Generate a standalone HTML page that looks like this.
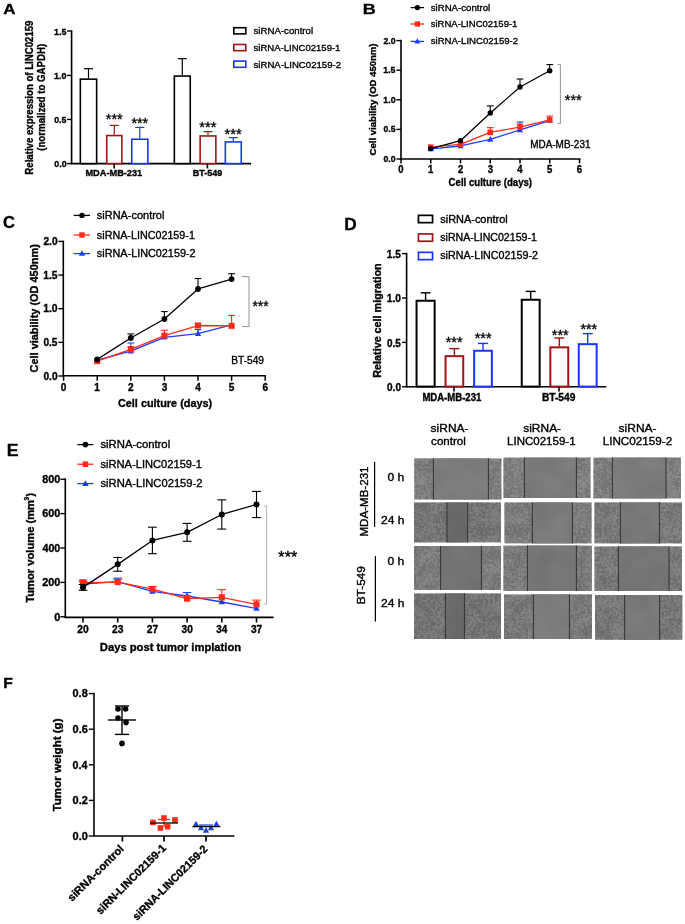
<!DOCTYPE html>
<html><head><meta charset="utf-8"><style>
html,body{margin:0;padding:0;background:#fff;width:685px;height:924px;overflow:hidden}
svg{display:block;will-change:transform;font-family:"Liberation Sans",sans-serif}
</style></head><body>
<svg width="685" height="924" viewBox="0 0 685 924" font-family="Liberation Sans, sans-serif"><text x="3.17" y="14.2" font-size="15.07" font-weight="bold" fill="#000" textLength="12.29" lengthAdjust="spacingAndGlyphs" stroke="#000" stroke-width="0.35">A</text>
<line x1="71.6" y1="30.25" x2="71.6" y2="164.35" stroke="#000" stroke-width="1.6"/>
<line x1="71.6" y1="163.6" x2="251" y2="163.6" stroke="#000" stroke-width="1.6"/>
<line x1="67" y1="31" x2="71.6" y2="31" stroke="#000" stroke-width="1.4"/>
<text x="54.07" y="34.6" font-size="9.8" font-weight="bold" fill="#000" textLength="12.36" lengthAdjust="spacingAndGlyphs" stroke="#000" stroke-width="0.35">1.5</text>
<line x1="67" y1="75.4" x2="71.6" y2="75.4" stroke="#000" stroke-width="1.4"/>
<text x="54.06" y="79" font-size="9.8" font-weight="bold" fill="#000" textLength="12.5" lengthAdjust="spacingAndGlyphs" stroke="#000" stroke-width="0.35">1.0</text>
<line x1="67" y1="119.4" x2="71.6" y2="119.4" stroke="#000" stroke-width="1.4"/>
<text x="54.25" y="123" font-size="9.8" font-weight="bold" fill="#000" textLength="12.17" lengthAdjust="spacingAndGlyphs" stroke="#000" stroke-width="0.35">0.5</text>
<line x1="67" y1="163.6" x2="71.6" y2="163.6" stroke="#000" stroke-width="1.4"/>
<text x="54.25" y="167.2" font-size="9.8" font-weight="bold" fill="#000" textLength="12.31" lengthAdjust="spacingAndGlyphs" stroke="#000" stroke-width="0.35">0.0</text>
<line x1="88.5" y1="78.4" x2="88.5" y2="68.7" stroke="#000" stroke-width="1.2"/>
<line x1="84" y1="68.7" x2="93" y2="68.7" stroke="#000" stroke-width="1.2"/>
<rect x="80.35" y="79.15" width="16.3" height="84.45" fill="#fff" stroke="#000" stroke-width="1.6"/>
<line x1="114.3" y1="134.8" x2="114.3" y2="125.4" stroke="#a01414" stroke-width="1.2"/>
<line x1="109.8" y1="125.4" x2="118.8" y2="125.4" stroke="#a01414" stroke-width="1.2"/>
<rect x="106.75" y="135.55" width="15.1" height="28.05" fill="#fff" stroke="#a01414" stroke-width="1.6"/>
<line x1="139.8" y1="138.5" x2="139.8" y2="127.4" stroke="#1a35ff" stroke-width="1.2"/>
<line x1="135.3" y1="127.4" x2="144.3" y2="127.4" stroke="#1a35ff" stroke-width="1.2"/>
<rect x="131.75" y="139.25" width="16.1" height="24.35" fill="#fff" stroke="#1a35ff" stroke-width="1.6"/>
<line x1="182.3" y1="75.3" x2="182.3" y2="58.7" stroke="#000" stroke-width="1.2"/>
<line x1="177.8" y1="58.7" x2="186.8" y2="58.7" stroke="#000" stroke-width="1.2"/>
<rect x="174.35" y="76.05" width="15.9" height="87.55" fill="#fff" stroke="#000" stroke-width="1.6"/>
<line x1="208" y1="135.2" x2="208" y2="131.6" stroke="#a01414" stroke-width="1.2"/>
<line x1="203.5" y1="131.6" x2="212.5" y2="131.6" stroke="#a01414" stroke-width="1.2"/>
<rect x="200.15" y="135.95" width="15.7" height="27.65" fill="#fff" stroke="#a01414" stroke-width="1.6"/>
<line x1="233.3" y1="141.2" x2="233.3" y2="137.6" stroke="#1a35ff" stroke-width="1.2"/>
<line x1="228.8" y1="137.6" x2="237.8" y2="137.6" stroke="#1a35ff" stroke-width="1.2"/>
<rect x="225.35" y="141.95" width="15.9" height="21.65" fill="#fff" stroke="#1a35ff" stroke-width="1.6"/>
<line x1="114.2" y1="163.6" x2="114.2" y2="168.4" stroke="#000" stroke-width="1.6"/>
<line x1="207.4" y1="163.6" x2="207.4" y2="168.4" stroke="#000" stroke-width="1.6"/>
<text x="85.4" y="176.4" font-size="9.6" font-weight="bold" fill="#000" textLength="56.85" lengthAdjust="spacingAndGlyphs" stroke="#000" stroke-width="0.35">MDA-MB-231</text>
<text x="192.82" y="176.4" font-size="9.6" font-weight="bold" fill="#000" textLength="29.49" lengthAdjust="spacingAndGlyphs" stroke="#000" stroke-width="0.35">BT-549</text>
<text x="105.78" y="124.33" font-size="14.5" font-weight="normal" fill="#000" textLength="17" lengthAdjust="spacingAndGlyphs" stroke="#000" stroke-width="0.35">***</text>
<text x="131.38" y="127.93" font-size="14.5" font-weight="normal" fill="#000" textLength="16.79" lengthAdjust="spacingAndGlyphs" stroke="#000" stroke-width="0.35">***</text>
<text x="199.38" y="131.93" font-size="14.5" font-weight="normal" fill="#000" textLength="17.2" lengthAdjust="spacingAndGlyphs" stroke="#000" stroke-width="0.35">***</text>
<text x="224.58" y="138.53" font-size="14.5" font-weight="normal" fill="#000" textLength="17.2" lengthAdjust="spacingAndGlyphs" stroke="#000" stroke-width="0.35">***</text>
<text transform="translate(33.2 174) rotate(-90)" x="-0.63" y="0" font-size="10" font-weight="bold" fill="#000" textLength="154.08" lengthAdjust="spacingAndGlyphs" stroke="#000" stroke-width="0.35">Relative expression of LINC02159</text>
<text transform="translate(45 150.3) rotate(-90)" x="-0.48" y="0" font-size="10" font-weight="bold" fill="#000" textLength="106.93" lengthAdjust="spacingAndGlyphs" stroke="#000" stroke-width="0.35">(normalized to GAPDH)</text>
<rect x="233.8" y="27.7" width="12" height="6.2" fill="#fff" stroke="#000" stroke-width="1.6"/>
<text x="253.51" y="34" font-size="9.9" font-weight="normal" fill="#000" textLength="59.55" lengthAdjust="spacingAndGlyphs" stroke="#000" stroke-width="0.35">siRNA-control</text>
<rect x="233.8" y="44.5" width="12" height="6.2" fill="#fff" stroke="#a01414" stroke-width="1.6"/>
<text x="253.51" y="51" font-size="9.9" font-weight="normal" fill="#000" textLength="86.92" lengthAdjust="spacingAndGlyphs" stroke="#000" stroke-width="0.35">siRNA-LINC02159-1</text>
<rect x="233.8" y="61.1" width="12" height="6.2" fill="#fff" stroke="#1a35ff" stroke-width="1.6"/>
<text x="253.51" y="67.6" font-size="9.9" font-weight="normal" fill="#000" textLength="87.57" lengthAdjust="spacingAndGlyphs" stroke="#000" stroke-width="0.35">siRNA-LINC02159-2</text>
<text x="362.83" y="14.4" font-size="15.07" font-weight="bold" fill="#000" textLength="13.02" lengthAdjust="spacingAndGlyphs" stroke="#000" stroke-width="0.35">B</text>
<line x1="401" y1="39.85" x2="401" y2="159.75" stroke="#000" stroke-width="1.6"/>
<line x1="401" y1="159" x2="580.5" y2="159" stroke="#000" stroke-width="1.6"/>
<line x1="396.4" y1="40.6" x2="401" y2="40.6" stroke="#000" stroke-width="1.4"/>
<text x="383.5" y="43.5" font-size="9.8" font-weight="bold" fill="#000" textLength="12.05" lengthAdjust="spacingAndGlyphs" stroke="#000" stroke-width="0.35">2.0</text>
<line x1="396.4" y1="70.2" x2="401" y2="70.2" stroke="#000" stroke-width="1.4"/>
<text x="383.28" y="73.1" font-size="9.8" font-weight="bold" fill="#000" textLength="12.14" lengthAdjust="spacingAndGlyphs" stroke="#000" stroke-width="0.35">1.5</text>
<line x1="396.4" y1="99.8" x2="401" y2="99.8" stroke="#000" stroke-width="1.4"/>
<text x="383.27" y="102.7" font-size="9.8" font-weight="bold" fill="#000" textLength="12.29" lengthAdjust="spacingAndGlyphs" stroke="#000" stroke-width="0.35">1.0</text>
<line x1="396.4" y1="129.4" x2="401" y2="129.4" stroke="#000" stroke-width="1.4"/>
<text x="383.46" y="132.3" font-size="9.8" font-weight="bold" fill="#000" textLength="11.96" lengthAdjust="spacingAndGlyphs" stroke="#000" stroke-width="0.35">0.5</text>
<line x1="396.4" y1="159" x2="401" y2="159" stroke="#000" stroke-width="1.4"/>
<text x="383.45" y="161.9" font-size="9.8" font-weight="bold" fill="#000" textLength="12.1" lengthAdjust="spacingAndGlyphs" stroke="#000" stroke-width="0.35">0.0</text>
<line x1="401" y1="159" x2="401" y2="163.4" stroke="#000" stroke-width="1.5"/>
<text x="398.36" y="172.8" font-size="10" font-weight="bold" fill="#000" textLength="5.28" lengthAdjust="spacingAndGlyphs" stroke="#000" stroke-width="0.35">0</text>
<line x1="430.75" y1="159" x2="430.75" y2="163.4" stroke="#000" stroke-width="1.5"/>
<text x="427.95" y="172.8" font-size="10" font-weight="bold" fill="#000" textLength="5.28" lengthAdjust="spacingAndGlyphs" stroke="#000" stroke-width="0.35">1</text>
<line x1="460.5" y1="159" x2="460.5" y2="163.4" stroke="#000" stroke-width="1.5"/>
<text x="457.89" y="172.8" font-size="10" font-weight="bold" fill="#000" textLength="5.28" lengthAdjust="spacingAndGlyphs" stroke="#000" stroke-width="0.35">2</text>
<line x1="490.25" y1="159" x2="490.25" y2="163.4" stroke="#000" stroke-width="1.5"/>
<text x="487.66" y="172.8" font-size="10" font-weight="bold" fill="#000" textLength="5.28" lengthAdjust="spacingAndGlyphs" stroke="#000" stroke-width="0.35">3</text>
<line x1="520" y1="159" x2="520" y2="163.4" stroke="#000" stroke-width="1.5"/>
<text x="517.32" y="172.8" font-size="10" font-weight="bold" fill="#000" textLength="5.28" lengthAdjust="spacingAndGlyphs" stroke="#000" stroke-width="0.35">4</text>
<line x1="549.75" y1="159" x2="549.75" y2="163.4" stroke="#000" stroke-width="1.5"/>
<text x="547.09" y="172.8" font-size="10" font-weight="bold" fill="#000" textLength="5.28" lengthAdjust="spacingAndGlyphs" stroke="#000" stroke-width="0.35">5</text>
<line x1="579.5" y1="159" x2="579.5" y2="163.4" stroke="#000" stroke-width="1.5"/>
<text x="576.86" y="172.8" font-size="10" font-weight="bold" fill="#000" textLength="5.28" lengthAdjust="spacingAndGlyphs" stroke="#000" stroke-width="0.35">6</text>
<text x="448.61" y="186.2" font-size="10.4" font-weight="bold" fill="#000" textLength="83.46" lengthAdjust="spacingAndGlyphs" stroke="#000" stroke-width="0.35">Cell culture (days)</text>
<text transform="translate(375.8 155) rotate(-90)" x="-0.38" y="0" font-size="9.6" font-weight="bold" fill="#000" textLength="111.92" lengthAdjust="spacingAndGlyphs" stroke="#000" stroke-width="0.35">Cell viability (OD 450nm)</text>
<text x="530.2" y="148" font-size="10.2" font-weight="normal" fill="#000" textLength="60.26" lengthAdjust="spacingAndGlyphs" stroke="#000" stroke-width="0.35">MDA-MB-231</text>
<path d="M557.6,64.6 H560.4 V123.4 H557.6" fill="none" stroke="#888" stroke-width="0.9"/>
<text x="564.78" y="104.53" font-size="14.5" font-weight="normal" fill="#000" textLength="17" lengthAdjust="spacingAndGlyphs" stroke="#000" stroke-width="0.35">***</text>
<line x1="520" y1="129.99" x2="520" y2="122" stroke="#1e3cff" stroke-width="1.1"/>
<line x1="516.6" y1="122" x2="523.4" y2="122" stroke="#1e3cff" stroke-width="1.1"/>
<polyline points="430.75,148.94 460.5,145.98 490.25,139.46 520,129.99 549.75,120.52" fill="none" stroke="#1e3cff" stroke-width="1.3" stroke-linejoin="round"/>
<polygon points="430.75,145.59 427.65,151.17 433.85,151.17" fill="#1e3cff"/>
<polygon points="460.5,142.63 457.4,148.21 463.6,148.21" fill="#1e3cff"/>
<polygon points="490.25,136.12 487.15,141.7 493.35,141.7" fill="#1e3cff"/>
<polygon points="520,126.64 516.9,132.22 523.1,132.22" fill="#1e3cff"/>
<polygon points="549.75,117.17 546.65,122.75 552.85,122.75" fill="#1e3cff"/>
<line x1="490.25" y1="132.36" x2="490.25" y2="127.62" stroke="#ff2a1a" stroke-width="1.1"/>
<line x1="486.85" y1="127.62" x2="493.65" y2="127.62" stroke="#ff2a1a" stroke-width="1.1"/>
<line x1="520" y1="127.03" x2="520" y2="124.07" stroke="#ff2a1a" stroke-width="1.1"/>
<line x1="516.6" y1="124.07" x2="523.4" y2="124.07" stroke="#ff2a1a" stroke-width="1.1"/>
<line x1="549.75" y1="119.93" x2="549.75" y2="116.08" stroke="#ff2a1a" stroke-width="1.1"/>
<line x1="546.35" y1="116.08" x2="553.15" y2="116.08" stroke="#ff2a1a" stroke-width="1.1"/>
<polyline points="430.75,147.16 460.5,144.38 490.25,132.36 520,127.03 549.75,119.93" fill="none" stroke="#ff2a1a" stroke-width="1.3" stroke-linejoin="round"/>
<rect x="427.95" y="144.36" width="5.6" height="5.6" fill="#ff2a1a"/>
<rect x="457.7" y="141.58" width="5.6" height="5.6" fill="#ff2a1a"/>
<rect x="487.45" y="129.56" width="5.6" height="5.6" fill="#ff2a1a"/>
<rect x="517.2" y="124.23" width="5.6" height="5.6" fill="#ff2a1a"/>
<rect x="546.95" y="117.13" width="5.6" height="5.6" fill="#ff2a1a"/>
<line x1="490.25" y1="113" x2="490.25" y2="105.9" stroke="#000" stroke-width="1.1"/>
<line x1="486.85" y1="105.9" x2="493.65" y2="105.9" stroke="#000" stroke-width="1.1"/>
<line x1="520" y1="87.01" x2="520" y2="79.02" stroke="#000" stroke-width="1.1"/>
<line x1="516.6" y1="79.02" x2="523.4" y2="79.02" stroke="#000" stroke-width="1.1"/>
<line x1="549.75" y1="70.79" x2="549.75" y2="64.58" stroke="#000" stroke-width="1.1"/>
<line x1="546.35" y1="64.58" x2="553.15" y2="64.58" stroke="#000" stroke-width="1.1"/>
<polyline points="430.75,148.58 460.5,140.65 490.25,113 520,87.01 549.75,70.79" fill="none" stroke="#000" stroke-width="1.3" stroke-linejoin="round"/>
<circle cx="430.75" cy="148.58" r="2.7" fill="#000"/>
<circle cx="460.5" cy="140.65" r="2.7" fill="#000"/>
<circle cx="490.25" cy="113" r="2.7" fill="#000"/>
<circle cx="520" cy="87.01" r="2.7" fill="#000"/>
<circle cx="549.75" cy="70.79" r="2.7" fill="#000"/>
<line x1="410.6" y1="7.6" x2="424" y2="7.6" stroke="#000" stroke-width="1.3"/>
<circle cx="417.4" cy="7.6" r="2.6" fill="#000"/>
<text x="430.71" y="10.6" font-size="9.9" font-weight="normal" fill="#000" textLength="59.55" lengthAdjust="spacingAndGlyphs" stroke="#000" stroke-width="0.35">siRNA-control</text>
<line x1="410.6" y1="24" x2="424" y2="24" stroke="#ff2a1a" stroke-width="1.3"/>
<rect x="414.8" y="21.4" width="5.2" height="5.2" fill="#ff2a1a"/>
<text x="430.71" y="27.2" font-size="9.9" font-weight="normal" fill="#000" textLength="86.71" lengthAdjust="spacingAndGlyphs" stroke="#000" stroke-width="0.35">siRNA-LINC02159-1</text>
<line x1="410.6" y1="41.4" x2="424" y2="41.4" stroke="#1e3cff" stroke-width="1.3"/>
<polygon points="417.4,38.16 414.4,43.56 420.4,43.56" fill="#1e3cff"/>
<text x="430.71" y="44.2" font-size="9.9" font-weight="normal" fill="#000" textLength="87.37" lengthAdjust="spacingAndGlyphs" stroke="#000" stroke-width="0.35">siRNA-LINC02159-2</text>
<text x="2.94" y="228" font-size="15.94" font-weight="bold" fill="#000" textLength="11.91" lengthAdjust="spacingAndGlyphs" stroke="#000" stroke-width="0.35">C</text>
<line x1="63.3" y1="240.65" x2="63.3" y2="376.55" stroke="#000" stroke-width="1.6"/>
<line x1="63.3" y1="375.8" x2="266" y2="375.8" stroke="#000" stroke-width="1.6"/>
<line x1="58.4" y1="241.4" x2="63.3" y2="241.4" stroke="#000" stroke-width="1.4"/>
<text x="43.44" y="245.1" font-size="10.6" font-weight="bold" fill="#000" textLength="14.17" lengthAdjust="spacingAndGlyphs" stroke="#000" stroke-width="0.35">2.0</text>
<line x1="58.4" y1="275.05" x2="63.3" y2="275.05" stroke="#000" stroke-width="1.4"/>
<text x="43.18" y="278.75" font-size="10.6" font-weight="bold" fill="#000" textLength="14.27" lengthAdjust="spacingAndGlyphs" stroke="#000" stroke-width="0.35">1.5</text>
<line x1="58.4" y1="308.7" x2="63.3" y2="308.7" stroke="#000" stroke-width="1.4"/>
<text x="43.18" y="312.4" font-size="10.6" font-weight="bold" fill="#000" textLength="14.44" lengthAdjust="spacingAndGlyphs" stroke="#000" stroke-width="0.35">1.0</text>
<line x1="58.4" y1="342.35" x2="63.3" y2="342.35" stroke="#000" stroke-width="1.4"/>
<text x="43.4" y="346.05" font-size="10.6" font-weight="bold" fill="#000" textLength="14.06" lengthAdjust="spacingAndGlyphs" stroke="#000" stroke-width="0.35">0.5</text>
<line x1="58.4" y1="376" x2="63.3" y2="376" stroke="#000" stroke-width="1.4"/>
<text x="43.39" y="379.7" font-size="10.6" font-weight="bold" fill="#000" textLength="14.22" lengthAdjust="spacingAndGlyphs" stroke="#000" stroke-width="0.35">0.0</text>
<line x1="63.6" y1="375.8" x2="63.6" y2="380.8" stroke="#000" stroke-width="1.5"/>
<text x="60.81" y="391" font-size="10.6" font-weight="bold" fill="#000" textLength="5.6" lengthAdjust="spacingAndGlyphs" stroke="#000" stroke-width="0.35">0</text>
<line x1="97.2" y1="375.8" x2="97.2" y2="380.8" stroke="#000" stroke-width="1.5"/>
<text x="94.23" y="391" font-size="10.6" font-weight="bold" fill="#000" textLength="5.6" lengthAdjust="spacingAndGlyphs" stroke="#000" stroke-width="0.35">1</text>
<line x1="130.8" y1="375.8" x2="130.8" y2="380.8" stroke="#000" stroke-width="1.5"/>
<text x="128.03" y="391" font-size="10.6" font-weight="bold" fill="#000" textLength="5.6" lengthAdjust="spacingAndGlyphs" stroke="#000" stroke-width="0.35">2</text>
<line x1="164.4" y1="375.8" x2="164.4" y2="380.8" stroke="#000" stroke-width="1.5"/>
<text x="161.66" y="391" font-size="10.6" font-weight="bold" fill="#000" textLength="5.6" lengthAdjust="spacingAndGlyphs" stroke="#000" stroke-width="0.35">3</text>
<line x1="198" y1="375.8" x2="198" y2="380.8" stroke="#000" stroke-width="1.5"/>
<text x="195.16" y="391" font-size="10.6" font-weight="bold" fill="#000" textLength="5.6" lengthAdjust="spacingAndGlyphs" stroke="#000" stroke-width="0.35">4</text>
<line x1="231.6" y1="375.8" x2="231.6" y2="380.8" stroke="#000" stroke-width="1.5"/>
<text x="228.78" y="391" font-size="10.6" font-weight="bold" fill="#000" textLength="5.6" lengthAdjust="spacingAndGlyphs" stroke="#000" stroke-width="0.35">5</text>
<line x1="265.2" y1="375.8" x2="265.2" y2="380.8" stroke="#000" stroke-width="1.5"/>
<text x="262.41" y="391" font-size="10.6" font-weight="bold" fill="#000" textLength="5.6" lengthAdjust="spacingAndGlyphs" stroke="#000" stroke-width="0.35">6</text>
<text x="117.97" y="407" font-size="11.2" font-weight="bold" fill="#000" textLength="94.17" lengthAdjust="spacingAndGlyphs" stroke="#000" stroke-width="0.35">Cell culture (days)</text>
<text transform="translate(37.8 372) rotate(-90)" x="-0.44" y="0" font-size="11" font-weight="bold" fill="#000" textLength="128.24" lengthAdjust="spacingAndGlyphs" stroke="#000" stroke-width="0.35">Cell viability (OD 450nm)</text>
<text x="231.18" y="364.4" font-size="10.2" font-weight="normal" fill="#000" textLength="32.87" lengthAdjust="spacingAndGlyphs" stroke="#000" stroke-width="0.35">BT-549</text>
<path d="M242,276.6 H249 V326.6 H242" fill="none" stroke="#888" stroke-width="0.9"/>
<text x="252.39" y="311.1" font-size="15" font-weight="normal" fill="#000" textLength="16.18" lengthAdjust="spacingAndGlyphs" stroke="#000" stroke-width="0.35">***</text>
<line x1="130.8" y1="351.1" x2="130.8" y2="343.02" stroke="#1e3cff" stroke-width="1.1"/>
<line x1="127.4" y1="343.02" x2="134.2" y2="343.02" stroke="#1e3cff" stroke-width="1.1"/>
<line x1="198" y1="333.6" x2="198" y2="329.56" stroke="#1e3cff" stroke-width="1.1"/>
<line x1="194.6" y1="329.56" x2="201.4" y2="329.56" stroke="#1e3cff" stroke-width="1.1"/>
<polyline points="97.2,360.18 130.8,351.1 164.4,337.3 198,333.6 231.6,324.85" fill="none" stroke="#1e3cff" stroke-width="1.3" stroke-linejoin="round"/>
<polygon points="97.2,356.73 94,362.49 100.4,362.49" fill="#1e3cff"/>
<polygon points="130.8,347.64 127.6,353.4 134,353.4" fill="#1e3cff"/>
<polygon points="164.4,333.85 161.2,339.61 167.6,339.61" fill="#1e3cff"/>
<polygon points="198,330.14 194.8,335.9 201.2,335.9" fill="#1e3cff"/>
<polygon points="231.6,321.4 228.4,327.16 234.8,327.16" fill="#1e3cff"/>
<line x1="130.8" y1="349.42" x2="130.8" y2="346.72" stroke="#ff2a1a" stroke-width="1.1"/>
<line x1="127.4" y1="346.72" x2="134.2" y2="346.72" stroke="#ff2a1a" stroke-width="1.1"/>
<line x1="164.4" y1="335.62" x2="164.4" y2="330.24" stroke="#ff2a1a" stroke-width="1.1"/>
<line x1="161" y1="330.24" x2="167.8" y2="330.24" stroke="#ff2a1a" stroke-width="1.1"/>
<line x1="198" y1="325.52" x2="198" y2="323.51" stroke="#ff2a1a" stroke-width="1.1"/>
<line x1="194.6" y1="323.51" x2="201.4" y2="323.51" stroke="#ff2a1a" stroke-width="1.1"/>
<line x1="231.6" y1="325.86" x2="231.6" y2="315.43" stroke="#ff2a1a" stroke-width="1.1"/>
<line x1="228.2" y1="315.43" x2="235" y2="315.43" stroke="#ff2a1a" stroke-width="1.1"/>
<polyline points="97.2,361.19 130.8,349.42 164.4,335.62 198,325.52 231.6,325.86" fill="none" stroke="#ff2a1a" stroke-width="1.3" stroke-linejoin="round"/>
<rect x="94.2" y="358.19" width="6" height="6" fill="#ff2a1a"/>
<rect x="127.8" y="346.42" width="6" height="6" fill="#ff2a1a"/>
<rect x="161.4" y="332.62" width="6" height="6" fill="#ff2a1a"/>
<rect x="195" y="322.52" width="6" height="6" fill="#ff2a1a"/>
<rect x="228.6" y="322.86" width="6" height="6" fill="#ff2a1a"/>
<line x1="130.8" y1="337.98" x2="130.8" y2="333.94" stroke="#000" stroke-width="1.1"/>
<line x1="127.4" y1="333.94" x2="134.2" y2="333.94" stroke="#000" stroke-width="1.1"/>
<line x1="164.4" y1="319" x2="164.4" y2="311.59" stroke="#000" stroke-width="1.1"/>
<line x1="161" y1="311.59" x2="167.8" y2="311.59" stroke="#000" stroke-width="1.1"/>
<line x1="198" y1="288.98" x2="198" y2="278.55" stroke="#000" stroke-width="1.1"/>
<line x1="194.6" y1="278.55" x2="201.4" y2="278.55" stroke="#000" stroke-width="1.1"/>
<line x1="231.6" y1="279.09" x2="231.6" y2="273.7" stroke="#000" stroke-width="1.1"/>
<line x1="228.2" y1="273.7" x2="235" y2="273.7" stroke="#000" stroke-width="1.1"/>
<polyline points="97.2,359.38 130.8,337.98 164.4,319 198,288.98 231.6,279.09" fill="none" stroke="#000" stroke-width="1.3" stroke-linejoin="round"/>
<circle cx="97.2" cy="359.38" r="2.9" fill="#000"/>
<circle cx="130.8" cy="337.98" r="2.9" fill="#000"/>
<circle cx="164.4" cy="319" r="2.9" fill="#000"/>
<circle cx="198" cy="288.98" r="2.9" fill="#000"/>
<circle cx="231.6" cy="279.09" r="2.9" fill="#000"/>
<line x1="73.6" y1="215.4" x2="90" y2="215.4" stroke="#000" stroke-width="1.3"/>
<circle cx="82" cy="215.4" r="2.7" fill="#000"/>
<text x="96.87" y="219.4" font-size="10.6" font-weight="normal" fill="#000" textLength="67.47" lengthAdjust="spacingAndGlyphs" stroke="#000" stroke-width="0.35">siRNA-control</text>
<line x1="73.6" y1="235" x2="90" y2="235" stroke="#ff2a1a" stroke-width="1.3"/>
<rect x="79.3" y="232.3" width="5.4" height="5.4" fill="#ff2a1a"/>
<text x="96.88" y="238.6" font-size="10.6" font-weight="normal" fill="#000" textLength="98.01" lengthAdjust="spacingAndGlyphs" stroke="#000" stroke-width="0.35">siRNA-LINC02159-1</text>
<line x1="73.6" y1="253.6" x2="90" y2="253.6" stroke="#1e3cff" stroke-width="1.3"/>
<polygon points="82,250.25 78.9,255.83 85.1,255.83" fill="#1e3cff"/>
<text x="96.88" y="257.2" font-size="10.6" font-weight="normal" fill="#000" textLength="98.67" lengthAdjust="spacingAndGlyphs" stroke="#000" stroke-width="0.35">siRNA-LINC02159-2</text>
<text x="344.28" y="230" font-size="15.94" font-weight="bold" fill="#000" textLength="12.45" lengthAdjust="spacingAndGlyphs" stroke="#000" stroke-width="0.35">D</text>
<line x1="406.6" y1="252.85" x2="406.6" y2="387.55" stroke="#000" stroke-width="1.6"/>
<line x1="406.6" y1="386.8" x2="606.4" y2="386.8" stroke="#000" stroke-width="1.6"/>
<line x1="402" y1="253.6" x2="406.6" y2="253.6" stroke="#000" stroke-width="1.4"/>
<text x="386.79" y="257.8" font-size="10.8" font-weight="bold" fill="#000" textLength="14.06" lengthAdjust="spacingAndGlyphs" stroke="#000" stroke-width="0.35">1.5</text>
<line x1="402" y1="298" x2="406.6" y2="298" stroke="#000" stroke-width="1.4"/>
<text x="386.79" y="302.2" font-size="10.8" font-weight="bold" fill="#000" textLength="14.22" lengthAdjust="spacingAndGlyphs" stroke="#000" stroke-width="0.35">1.0</text>
<line x1="402" y1="342.4" x2="406.6" y2="342.4" stroke="#000" stroke-width="1.4"/>
<text x="387" y="346.6" font-size="10.8" font-weight="bold" fill="#000" textLength="13.85" lengthAdjust="spacingAndGlyphs" stroke="#000" stroke-width="0.35">0.5</text>
<line x1="402" y1="386.8" x2="406.6" y2="386.8" stroke="#000" stroke-width="1.4"/>
<text x="387" y="391" font-size="10.8" font-weight="bold" fill="#000" textLength="14.01" lengthAdjust="spacingAndGlyphs" stroke="#000" stroke-width="0.35">0.0</text>
<line x1="425.6" y1="300" x2="425.6" y2="292.8" stroke="#000" stroke-width="1.4"/>
<line x1="420.6" y1="292.8" x2="430.6" y2="292.8" stroke="#000" stroke-width="1.4"/>
<rect x="416.55" y="300.75" width="18.1" height="85.85" fill="#fff" stroke="#000" stroke-width="2"/>
<line x1="454.4" y1="355.4" x2="454.4" y2="348.6" stroke="#a01414" stroke-width="1.4"/>
<line x1="449.4" y1="348.6" x2="459.4" y2="348.6" stroke="#a01414" stroke-width="1.4"/>
<rect x="445.55" y="356.15" width="17.7" height="30.45" fill="#fff" stroke="#a01414" stroke-width="2"/>
<line x1="483" y1="350" x2="483" y2="343.4" stroke="#1a35ff" stroke-width="1.4"/>
<line x1="478" y1="343.4" x2="488" y2="343.4" stroke="#1a35ff" stroke-width="1.4"/>
<rect x="474.15" y="350.75" width="17.7" height="35.85" fill="#fff" stroke="#1a35ff" stroke-width="2"/>
<line x1="530.7" y1="299" x2="530.7" y2="291.4" stroke="#000" stroke-width="1.4"/>
<line x1="525.7" y1="291.4" x2="535.7" y2="291.4" stroke="#000" stroke-width="1.4"/>
<rect x="521.75" y="299.75" width="17.9" height="86.85" fill="#fff" stroke="#000" stroke-width="2"/>
<line x1="559.3" y1="346.6" x2="559.3" y2="338" stroke="#a01414" stroke-width="1.4"/>
<line x1="554.3" y1="338" x2="564.3" y2="338" stroke="#a01414" stroke-width="1.4"/>
<rect x="550.35" y="347.35" width="17.9" height="39.25" fill="#fff" stroke="#a01414" stroke-width="2"/>
<line x1="587.7" y1="343.4" x2="587.7" y2="333.6" stroke="#1a35ff" stroke-width="1.4"/>
<line x1="582.7" y1="333.6" x2="592.7" y2="333.6" stroke="#1a35ff" stroke-width="1.4"/>
<rect x="578.75" y="344.15" width="17.9" height="42.45" fill="#fff" stroke="#1a35ff" stroke-width="2"/>
<line x1="454" y1="386.8" x2="454" y2="391.6" stroke="#000" stroke-width="1.6"/>
<line x1="559" y1="386.8" x2="559" y2="391.6" stroke="#000" stroke-width="1.6"/>
<text x="422.38" y="401.4" font-size="10" font-weight="bold" fill="#000" textLength="58.88" lengthAdjust="spacingAndGlyphs" stroke="#000" stroke-width="0.35">MDA-MB-231</text>
<text x="541.94" y="401.4" font-size="10" font-weight="bold" fill="#000" textLength="33.41" lengthAdjust="spacingAndGlyphs" stroke="#000" stroke-width="0.35">BT-549</text>
<text x="445.78" y="347.33" font-size="14.5" font-weight="normal" fill="#000" textLength="16.79" lengthAdjust="spacingAndGlyphs" stroke="#000" stroke-width="0.35">***</text>
<text x="474.78" y="342.93" font-size="14.5" font-weight="normal" fill="#000" textLength="16.79" lengthAdjust="spacingAndGlyphs" stroke="#000" stroke-width="0.35">***</text>
<text x="551.78" y="339.53" font-size="14.5" font-weight="normal" fill="#000" textLength="17" lengthAdjust="spacingAndGlyphs" stroke="#000" stroke-width="0.35">***</text>
<text x="580.38" y="333.53" font-size="14.5" font-weight="normal" fill="#000" textLength="16.79" lengthAdjust="spacingAndGlyphs" stroke="#000" stroke-width="0.35">***</text>
<text transform="translate(381 377) rotate(-90)" x="-0.7" y="0" font-size="10.8" font-weight="bold" fill="#000" textLength="114.34" lengthAdjust="spacingAndGlyphs" stroke="#000" stroke-width="0.35">Relative cell migration</text>
<rect x="418.45" y="215.35" width="14.1" height="7.3" fill="#fff" stroke="#000" stroke-width="1.7"/>
<text x="440.27" y="222.6" font-size="10.5" font-weight="normal" fill="#000" textLength="67.47" lengthAdjust="spacingAndGlyphs" stroke="#000" stroke-width="0.35">siRNA-control</text>
<rect x="418.45" y="233.95" width="14.1" height="7.3" fill="#fff" stroke="#a01414" stroke-width="1.7"/>
<text x="440.28" y="241" font-size="10.5" font-weight="normal" fill="#000" textLength="96.6" lengthAdjust="spacingAndGlyphs" stroke="#000" stroke-width="0.35">siRNA-LINC02159-1</text>
<rect x="418.45" y="252.35" width="14.1" height="7.3" fill="#fff" stroke="#1a35ff" stroke-width="1.7"/>
<text x="440.28" y="259.4" font-size="10.5" font-weight="normal" fill="#000" textLength="97.66" lengthAdjust="spacingAndGlyphs" stroke="#000" stroke-width="0.35">siRNA-LINC02159-2</text>
<text x="430.64" y="431.6" font-size="10.6" font-weight="normal" fill="#000" textLength="37.86" lengthAdjust="spacingAndGlyphs" stroke="#000" stroke-width="0.35">siRNA-</text>
<text x="431.14" y="445" font-size="10.6" font-weight="normal" fill="#000" textLength="34.63" lengthAdjust="spacingAndGlyphs" stroke="#000" stroke-width="0.35">control</text>
<text x="523.24" y="431.6" font-size="10.6" font-weight="normal" fill="#000" textLength="37.86" lengthAdjust="spacingAndGlyphs" stroke="#000" stroke-width="0.35">siRNA-</text>
<text x="507.08" y="445" font-size="10.6" font-weight="normal" fill="#000" textLength="68.48" lengthAdjust="spacingAndGlyphs" stroke="#000" stroke-width="0.35">LINC02159-1</text>
<text x="618.64" y="431.6" font-size="10.6" font-weight="normal" fill="#000" textLength="37.86" lengthAdjust="spacingAndGlyphs" stroke="#000" stroke-width="0.35">siRNA-</text>
<text x="602.66" y="445" font-size="10.6" font-weight="normal" fill="#000" textLength="69.56" lengthAdjust="spacingAndGlyphs" stroke="#000" stroke-width="0.35">LINC02159-2</text>
<text x="387.51" y="481" font-size="10.6" font-weight="normal" fill="#000" textLength="16.88" lengthAdjust="spacingAndGlyphs" stroke="#000" stroke-width="0.35">0 h</text>
<text x="381" y="524" font-size="10.6" font-weight="normal" fill="#000" textLength="23.4" lengthAdjust="spacingAndGlyphs" stroke="#000" stroke-width="0.35">24 h</text>
<text x="387.51" y="565" font-size="10.6" font-weight="normal" fill="#000" textLength="16.88" lengthAdjust="spacingAndGlyphs" stroke="#000" stroke-width="0.35">0 h</text>
<text x="381" y="607.4" font-size="10.6" font-weight="normal" fill="#000" textLength="23.4" lengthAdjust="spacingAndGlyphs" stroke="#000" stroke-width="0.35">24 h</text>
<line x1="374.6" y1="462" x2="374.6" y2="527" stroke="#000" stroke-width="1.2"/>
<line x1="375.4" y1="556" x2="375.4" y2="621.6" stroke="#000" stroke-width="1.2"/>
<text transform="translate(368.4 535.6) rotate(-90)" x="-0.93" y="0" font-size="10.6" font-weight="normal" fill="#000" textLength="70.07" lengthAdjust="spacingAndGlyphs" stroke="#000" stroke-width="0.35">MDA-MB-231</text>
<text transform="translate(365.4 603.4) rotate(-90)" x="-0.95" y="0" font-size="10.6" font-weight="normal" fill="#000" textLength="38.28" lengthAdjust="spacingAndGlyphs" stroke="#000" stroke-width="0.35">BT-549</text>
<defs><filter id="tex" x="0" y="0" width="100%" height="100%" color-interpolation-filters="sRGB"><feTurbulence type="fractalNoise" baseFrequency="0.42" numOctaves="3" seed="3"/><feColorMatrix type="matrix" values="1 0 0 0 0  1 0 0 0 0  1 0 0 0 0  0 0 0 0 1" result="n1"/><feTurbulence type="fractalNoise" baseFrequency="0.08" numOctaves="2" seed="11"/><feColorMatrix type="matrix" values="1 0 0 0 0  1 0 0 0 0  1 0 0 0 0  0 0 0 0 1" result="n2"/><feComposite in="n1" in2="n2" operator="arithmetic" k1="0" k2="1" k3="0.5" k4="-0.25"/><feColorMatrix type="matrix" values="3.2 0 0 0 -1.1  3.2 0 0 0 -1.1  3.2 0 0 0 -1.1  0 0 0 0 1"/></filter><filter id="smo" x="0" y="0" width="100%" height="100%" color-interpolation-filters="sRGB"><feTurbulence type="fractalNoise" baseFrequency="0.04" numOctaves="2" seed="5"/><feColorMatrix type="matrix" values="1 0 0 0 0  1 0 0 0 0  1 0 0 0 0  0 0 0 0 1"/></filter></defs>
<rect x="414.2" y="458.4" width="87.2" height="41.1" fill="rgb(125,125,125)"/>
<rect x="414.2" y="458.4" width="87.2" height="41.1" fill="#000" filter="url(#tex)" opacity="0.09"/>
<rect x="433.4" y="458.4" width="55" height="41.1" fill="rgb(123,123,123)"/>
<rect x="433.4" y="458.4" width="55" height="41.1" fill="#000" filter="url(#smo)" opacity="0.06"/>
<line x1="433.4" y1="458.4" x2="433.4" y2="499.5" stroke="#333" stroke-width="1"/>
<line x1="488.4" y1="458.4" x2="488.4" y2="499.5" stroke="#333" stroke-width="1"/>
<rect x="414" y="502.4" width="87" height="40" fill="rgb(117,117,117)"/>
<rect x="414" y="502.4" width="87" height="40" fill="#000" filter="url(#tex)" opacity="0.09"/>
<rect x="447" y="502.4" width="20.6" height="40" fill="rgb(104,104,104)"/>
<rect x="447" y="502.4" width="20.6" height="40" fill="#000" filter="url(#smo)" opacity="0.06"/>
<line x1="447" y1="502.4" x2="447" y2="542.4" stroke="#333" stroke-width="1"/>
<line x1="467.6" y1="502.4" x2="467.6" y2="542.4" stroke="#333" stroke-width="1"/>
<rect x="414" y="546" width="87" height="44" fill="rgb(124,124,124)"/>
<rect x="414" y="546" width="87" height="44" fill="#000" filter="url(#tex)" opacity="0.09"/>
<rect x="440.6" y="546" width="40.8" height="44" fill="rgb(115,115,115)"/>
<rect x="440.6" y="546" width="40.8" height="44" fill="#000" filter="url(#smo)" opacity="0.06"/>
<line x1="440.6" y1="546" x2="440.6" y2="590" stroke="#333" stroke-width="1"/>
<line x1="481.4" y1="546" x2="481.4" y2="590" stroke="#333" stroke-width="1"/>
<rect x="414" y="593.4" width="87" height="45.6" fill="rgb(116,116,116)"/>
<rect x="414" y="593.4" width="87" height="45.6" fill="#000" filter="url(#tex)" opacity="0.09"/>
<rect x="445.4" y="593.4" width="19" height="45.6" fill="rgb(106,106,106)"/>
<rect x="445.4" y="593.4" width="19" height="45.6" fill="#000" filter="url(#smo)" opacity="0.06"/>
<line x1="445.4" y1="593.4" x2="445.4" y2="639" stroke="#333" stroke-width="1"/>
<line x1="464.4" y1="593.4" x2="464.4" y2="639" stroke="#333" stroke-width="1"/>
<rect x="503.4" y="457.6" width="87.2" height="40.4" fill="rgb(127,127,127)"/>
<rect x="503.4" y="457.6" width="87.2" height="40.4" fill="#000" filter="url(#tex)" opacity="0.09"/>
<rect x="524.4" y="457.6" width="52" height="40.4" fill="rgb(122,122,122)"/>
<rect x="524.4" y="457.6" width="52" height="40.4" fill="#000" filter="url(#smo)" opacity="0.06"/>
<line x1="524.4" y1="457.6" x2="524.4" y2="498" stroke="#333" stroke-width="1"/>
<line x1="576.4" y1="457.6" x2="576.4" y2="498" stroke="#333" stroke-width="1"/>
<rect x="504.4" y="502.4" width="87.2" height="41" fill="rgb(123,123,123)"/>
<rect x="504.4" y="502.4" width="87.2" height="41" fill="#000" filter="url(#tex)" opacity="0.09"/>
<rect x="532.4" y="502.4" width="40" height="41" fill="rgb(122,122,122)"/>
<rect x="532.4" y="502.4" width="40" height="41" fill="#000" filter="url(#smo)" opacity="0.06"/>
<line x1="532.4" y1="502.4" x2="532.4" y2="543.4" stroke="#333" stroke-width="1"/>
<line x1="572.4" y1="502.4" x2="572.4" y2="543.4" stroke="#333" stroke-width="1"/>
<rect x="503.4" y="545.6" width="88.6" height="45.4" fill="rgb(123,123,123)"/>
<rect x="503.4" y="545.6" width="88.6" height="45.4" fill="#000" filter="url(#tex)" opacity="0.09"/>
<rect x="527.4" y="545.6" width="49" height="45.4" fill="rgb(118,118,118)"/>
<rect x="527.4" y="545.6" width="49" height="45.4" fill="#000" filter="url(#smo)" opacity="0.06"/>
<line x1="527.4" y1="545.6" x2="527.4" y2="591" stroke="#333" stroke-width="1"/>
<line x1="576.4" y1="545.6" x2="576.4" y2="591" stroke="#333" stroke-width="1"/>
<rect x="504" y="594.4" width="88" height="44.6" fill="rgb(121,121,121)"/>
<rect x="504" y="594.4" width="88" height="44.6" fill="#000" filter="url(#tex)" opacity="0.09"/>
<rect x="533.4" y="594.4" width="36" height="44.6" fill="rgb(123,123,123)"/>
<rect x="533.4" y="594.4" width="36" height="44.6" fill="#000" filter="url(#smo)" opacity="0.06"/>
<line x1="533.4" y1="594.4" x2="533.4" y2="639" stroke="#333" stroke-width="1"/>
<line x1="569.4" y1="594.4" x2="569.4" y2="639" stroke="#333" stroke-width="1"/>
<rect x="593.4" y="457.6" width="87.6" height="40.8" fill="rgb(126,126,126)"/>
<rect x="593.4" y="457.6" width="87.6" height="40.8" fill="#000" filter="url(#tex)" opacity="0.09"/>
<rect x="612.4" y="457.6" width="53.6" height="40.8" fill="rgb(123,123,123)"/>
<rect x="612.4" y="457.6" width="53.6" height="40.8" fill="#000" filter="url(#smo)" opacity="0.06"/>
<line x1="612.4" y1="457.6" x2="612.4" y2="498.4" stroke="#333" stroke-width="1"/>
<line x1="666" y1="457.6" x2="666" y2="498.4" stroke="#333" stroke-width="1"/>
<rect x="594.4" y="502.4" width="87.6" height="41" fill="rgb(121,121,121)"/>
<rect x="594.4" y="502.4" width="87.6" height="41" fill="#000" filter="url(#tex)" opacity="0.09"/>
<rect x="620.4" y="502.4" width="39" height="41" fill="rgb(120,120,120)"/>
<rect x="620.4" y="502.4" width="39" height="41" fill="#000" filter="url(#smo)" opacity="0.06"/>
<line x1="620.4" y1="502.4" x2="620.4" y2="543.4" stroke="#333" stroke-width="1"/>
<line x1="659.4" y1="502.4" x2="659.4" y2="543.4" stroke="#333" stroke-width="1"/>
<rect x="594.4" y="546.4" width="87.6" height="44.6" fill="rgb(121,121,121)"/>
<rect x="594.4" y="546.4" width="87.6" height="44.6" fill="#000" filter="url(#tex)" opacity="0.09"/>
<rect x="618.4" y="546.4" width="50.6" height="44.6" fill="rgb(116,116,116)"/>
<rect x="618.4" y="546.4" width="50.6" height="44.6" fill="#000" filter="url(#smo)" opacity="0.06"/>
<line x1="618.4" y1="546.4" x2="618.4" y2="591" stroke="#333" stroke-width="1"/>
<line x1="669" y1="546.4" x2="669" y2="591" stroke="#333" stroke-width="1"/>
<rect x="595" y="595" width="87.4" height="44.8" fill="rgb(118,118,118)"/>
<rect x="595" y="595" width="87.4" height="44.8" fill="#000" filter="url(#tex)" opacity="0.09"/>
<rect x="624.6" y="595" width="35" height="44.8" fill="rgb(120,120,120)"/>
<rect x="624.6" y="595" width="35" height="44.8" fill="#000" filter="url(#smo)" opacity="0.06"/>
<line x1="624.6" y1="595" x2="624.6" y2="639.8" stroke="#333" stroke-width="1"/>
<line x1="659.6" y1="595" x2="659.6" y2="639.8" stroke="#333" stroke-width="1"/>
<text x="6.85" y="456" font-size="16.81" font-weight="bold" fill="#000" textLength="11.81" lengthAdjust="spacingAndGlyphs" stroke="#000" stroke-width="0.35">E</text>
<line x1="65.3" y1="478.4" x2="65.3" y2="618.2" stroke="#000" stroke-width="1.6"/>
<line x1="65.3" y1="617.4" x2="273.6" y2="617.4" stroke="#000" stroke-width="1.6"/>
<line x1="60.3" y1="479.2" x2="65.3" y2="479.2" stroke="#000" stroke-width="1.4"/>
<text x="42.28" y="482.9" font-size="10.6" font-weight="bold" fill="#000" textLength="17.99" lengthAdjust="spacingAndGlyphs" stroke="#000" stroke-width="0.35">800</text>
<line x1="60.3" y1="513.6" x2="65.3" y2="513.6" stroke="#000" stroke-width="1.4"/>
<text x="42.22" y="517.3" font-size="10.6" font-weight="bold" fill="#000" textLength="18.05" lengthAdjust="spacingAndGlyphs" stroke="#000" stroke-width="0.35">600</text>
<line x1="60.3" y1="548" x2="65.3" y2="548" stroke="#000" stroke-width="1.4"/>
<text x="42.44" y="551.7" font-size="10.6" font-weight="bold" fill="#000" textLength="17.83" lengthAdjust="spacingAndGlyphs" stroke="#000" stroke-width="0.35">400</text>
<line x1="60.3" y1="582.4" x2="65.3" y2="582.4" stroke="#000" stroke-width="1.4"/>
<text x="42.22" y="586.1" font-size="10.6" font-weight="bold" fill="#000" textLength="18.05" lengthAdjust="spacingAndGlyphs" stroke="#000" stroke-width="0.35">200</text>
<line x1="60.3" y1="616.8" x2="65.3" y2="616.8" stroke="#000" stroke-width="1.4"/>
<text x="54.16" y="620.5" font-size="10.6" font-weight="bold" fill="#000" textLength="6.09" lengthAdjust="spacingAndGlyphs" stroke="#000" stroke-width="0.35">0</text>
<line x1="83" y1="617.4" x2="83" y2="622.5" stroke="#000" stroke-width="1.6"/>
<text x="77.34" y="632.8" font-size="10.2" font-weight="bold" fill="#000" textLength="11.39" lengthAdjust="spacingAndGlyphs" stroke="#000" stroke-width="0.35">20</text>
<line x1="117.7" y1="617.4" x2="117.7" y2="622.5" stroke="#000" stroke-width="1.6"/>
<text x="112.04" y="632.8" font-size="10.2" font-weight="bold" fill="#000" textLength="11.34" lengthAdjust="spacingAndGlyphs" stroke="#000" stroke-width="0.35">23</text>
<line x1="152.4" y1="617.4" x2="152.4" y2="622.5" stroke="#000" stroke-width="1.6"/>
<text x="146.74" y="632.8" font-size="10.2" font-weight="bold" fill="#000" textLength="11.39" lengthAdjust="spacingAndGlyphs" stroke="#000" stroke-width="0.35">27</text>
<line x1="187.1" y1="617.4" x2="187.1" y2="622.5" stroke="#000" stroke-width="1.6"/>
<text x="181.55" y="632.8" font-size="10.2" font-weight="bold" fill="#000" textLength="11.28" lengthAdjust="spacingAndGlyphs" stroke="#000" stroke-width="0.35">30</text>
<line x1="221.8" y1="617.4" x2="221.8" y2="622.5" stroke="#000" stroke-width="1.6"/>
<text x="216.25" y="632.8" font-size="10.2" font-weight="bold" fill="#000" textLength="10.92" lengthAdjust="spacingAndGlyphs" stroke="#000" stroke-width="0.35">34</text>
<line x1="256.5" y1="617.4" x2="256.5" y2="622.5" stroke="#000" stroke-width="1.6"/>
<text x="250.95" y="632.8" font-size="10.2" font-weight="bold" fill="#000" textLength="11.28" lengthAdjust="spacingAndGlyphs" stroke="#000" stroke-width="0.35">37</text>
<text x="99.87" y="651.4" font-size="11.2" font-weight="bold" fill="#000" textLength="141.23" lengthAdjust="spacingAndGlyphs" stroke="#000" stroke-width="0.35">Days post tumor implation</text>
<text transform="translate(33.6 602.7) rotate(-90)" x="-0.11" y="0" font-size="10.8" font-weight="bold" fill="#000" textLength="102.88" lengthAdjust="spacingAndGlyphs" stroke="#000" stroke-width="0.35">Tumor volume (mm</text>
<text transform="translate(33.6 496.4) rotate(-90)" x="0" y="0" font-size="10.8" font-weight="bold" stroke="#000" stroke-width="0.35">)</text>
<text transform="translate(29.0 500.6) rotate(-90)" x="0" y="0" font-size="6.6" font-weight="bold" stroke="#000" stroke-width="0.35">3</text>
<path d="M263.6,506 H266.6 V604 H263.6" fill="none" stroke="#aaa" stroke-width="0.9"/>
<text x="278.36" y="562.84" font-size="16" font-weight="normal" fill="#000" textLength="18.84" lengthAdjust="spacingAndGlyphs" stroke="#000" stroke-width="0.35">***</text>
<line x1="83" y1="584.12" x2="83" y2="581.54" stroke="#1e3cff" stroke-width="1.1"/>
<line x1="78.8" y1="581.54" x2="87.2" y2="581.54" stroke="#1e3cff" stroke-width="1.1"/>
<line x1="117.7" y1="581.54" x2="117.7" y2="578.1" stroke="#1e3cff" stroke-width="1.1"/>
<line x1="113.5" y1="578.1" x2="121.9" y2="578.1" stroke="#1e3cff" stroke-width="1.1"/>
<line x1="187.1" y1="595.99" x2="187.1" y2="592.55" stroke="#1e3cff" stroke-width="1.1"/>
<line x1="182.9" y1="592.55" x2="191.3" y2="592.55" stroke="#1e3cff" stroke-width="1.1"/>
<polyline points="83,584.12 117.7,581.54 152.4,591.34 187.1,595.99 221.8,602.01 256.5,608.54" fill="none" stroke="#1e3cff" stroke-width="1.3" stroke-linejoin="round"/>
<polygon points="83,580.66 79.8,586.42 86.2,586.42" fill="#1e3cff"/>
<polygon points="117.7,578.08 114.5,583.84 120.9,583.84" fill="#1e3cff"/>
<polygon points="152.4,587.89 149.2,593.65 155.6,593.65" fill="#1e3cff"/>
<polygon points="187.1,592.53 183.9,598.29 190.3,598.29" fill="#1e3cff"/>
<polygon points="221.8,598.55 218.6,604.31 225,604.31" fill="#1e3cff"/>
<polygon points="256.5,605.09 253.3,610.85 259.7,610.85" fill="#1e3cff"/>
<line x1="83" y1="582.57" x2="83" y2="579.99" stroke="#ff2a1a" stroke-width="1.1"/>
<line x1="78.8" y1="579.99" x2="87.2" y2="579.99" stroke="#ff2a1a" stroke-width="1.1"/>
<line x1="117.7" y1="582.06" x2="117.7" y2="579.48" stroke="#ff2a1a" stroke-width="1.1"/>
<line x1="113.5" y1="579.48" x2="121.9" y2="579.48" stroke="#ff2a1a" stroke-width="1.1"/>
<line x1="152.4" y1="589.11" x2="152.4" y2="586.53" stroke="#ff2a1a" stroke-width="1.1"/>
<line x1="148.2" y1="586.53" x2="156.6" y2="586.53" stroke="#ff2a1a" stroke-width="1.1"/>
<line x1="187.1" y1="598.57" x2="187.1" y2="595.99" stroke="#ff2a1a" stroke-width="1.1"/>
<line x1="182.9" y1="595.99" x2="191.3" y2="595.99" stroke="#ff2a1a" stroke-width="1.1"/>
<line x1="221.8" y1="597.36" x2="221.8" y2="589.62" stroke="#ff2a1a" stroke-width="1.1"/>
<line x1="217.6" y1="589.62" x2="226" y2="589.62" stroke="#ff2a1a" stroke-width="1.1"/>
<line x1="256.5" y1="604.42" x2="256.5" y2="600.12" stroke="#ff2a1a" stroke-width="1.1"/>
<line x1="252.3" y1="600.12" x2="260.7" y2="600.12" stroke="#ff2a1a" stroke-width="1.1"/>
<polyline points="83,582.57 117.7,582.06 152.4,589.11 187.1,598.57 221.8,597.36 256.5,604.42" fill="none" stroke="#ff2a1a" stroke-width="1.3" stroke-linejoin="round"/>
<rect x="79.9" y="579.47" width="6.2" height="6.2" fill="#ff2a1a"/>
<rect x="114.6" y="578.96" width="6.2" height="6.2" fill="#ff2a1a"/>
<rect x="149.3" y="586.01" width="6.2" height="6.2" fill="#ff2a1a"/>
<rect x="184" y="595.47" width="6.2" height="6.2" fill="#ff2a1a"/>
<rect x="218.7" y="594.26" width="6.2" height="6.2" fill="#ff2a1a"/>
<rect x="253.4" y="601.32" width="6.2" height="6.2" fill="#ff2a1a"/>
<line x1="83" y1="590.31" x2="83" y2="584.46" stroke="#000" stroke-width="1.1"/>
<line x1="78.6" y1="590.31" x2="87.4" y2="590.31" stroke="#000" stroke-width="1.1"/>
<line x1="78.6" y1="584.46" x2="87.4" y2="584.46" stroke="#000" stroke-width="1.1"/>
<line x1="117.7" y1="571.22" x2="117.7" y2="557.46" stroke="#000" stroke-width="1.1"/>
<line x1="113.3" y1="571.22" x2="122.1" y2="571.22" stroke="#000" stroke-width="1.1"/>
<line x1="113.3" y1="557.46" x2="122.1" y2="557.46" stroke="#000" stroke-width="1.1"/>
<line x1="152.4" y1="553.68" x2="152.4" y2="527.19" stroke="#000" stroke-width="1.1"/>
<line x1="148" y1="553.68" x2="156.8" y2="553.68" stroke="#000" stroke-width="1.1"/>
<line x1="148" y1="527.19" x2="156.8" y2="527.19" stroke="#000" stroke-width="1.1"/>
<line x1="187.1" y1="541.29" x2="187.1" y2="523.4" stroke="#000" stroke-width="1.1"/>
<line x1="182.7" y1="541.29" x2="191.5" y2="541.29" stroke="#000" stroke-width="1.1"/>
<line x1="182.7" y1="523.4" x2="191.5" y2="523.4" stroke="#000" stroke-width="1.1"/>
<line x1="221.8" y1="529.08" x2="221.8" y2="499.84" stroke="#000" stroke-width="1.1"/>
<line x1="217.4" y1="529.08" x2="226.2" y2="529.08" stroke="#000" stroke-width="1.1"/>
<line x1="217.4" y1="499.84" x2="226.2" y2="499.84" stroke="#000" stroke-width="1.1"/>
<line x1="256.5" y1="517.56" x2="256.5" y2="491.41" stroke="#000" stroke-width="1.1"/>
<line x1="252.1" y1="517.56" x2="260.9" y2="517.56" stroke="#000" stroke-width="1.1"/>
<line x1="252.1" y1="491.41" x2="260.9" y2="491.41" stroke="#000" stroke-width="1.1"/>
<polyline points="83,587.39 117.7,564.34 152.4,540.43 187.1,532.35 221.8,514.46 256.5,504.48" fill="none" stroke="#000" stroke-width="1.3" stroke-linejoin="round"/>
<circle cx="83" cy="587.39" r="3" fill="#000"/>
<circle cx="117.7" cy="564.34" r="3" fill="#000"/>
<circle cx="152.4" cy="540.43" r="3" fill="#000"/>
<circle cx="187.1" cy="532.35" r="3" fill="#000"/>
<circle cx="221.8" cy="514.46" r="3" fill="#000"/>
<circle cx="256.5" cy="504.48" r="3" fill="#000"/>
<line x1="77.4" y1="444.6" x2="93.4" y2="444.6" stroke="#000" stroke-width="1.3"/>
<circle cx="85.4" cy="444.6" r="2.8" fill="#000"/>
<text x="100.46" y="448" font-size="10.8" font-weight="normal" fill="#000" textLength="69.71" lengthAdjust="spacingAndGlyphs" stroke="#000" stroke-width="0.35">siRNA-control</text>
<line x1="77.4" y1="464.2" x2="93.4" y2="464.2" stroke="#ff2a1a" stroke-width="1.3"/>
<rect x="82.6" y="461.4" width="5.6" height="5.6" fill="#ff2a1a"/>
<text x="100.47" y="467.6" font-size="10.8" font-weight="normal" fill="#000" textLength="101.44" lengthAdjust="spacingAndGlyphs" stroke="#000" stroke-width="0.35">siRNA-LINC02159-1</text>
<line x1="77.4" y1="483.6" x2="93.4" y2="483.6" stroke="#1e3cff" stroke-width="1.3"/>
<polygon points="85.4,480.14 82.2,485.9 88.6,485.9" fill="#1e3cff"/>
<text x="100.46" y="486.8" font-size="10.8" font-weight="normal" fill="#000" textLength="102.1" lengthAdjust="spacingAndGlyphs" stroke="#000" stroke-width="0.35">siRNA-LINC02159-2</text>
<text x="3.38" y="687.6" font-size="14.78" font-weight="bold" fill="#000" textLength="9.58" lengthAdjust="spacingAndGlyphs" stroke="#000" stroke-width="0.35">F</text>
<line x1="94" y1="692.85" x2="94" y2="836.75" stroke="#000" stroke-width="1.6"/>
<line x1="94" y1="836" x2="234.4" y2="836" stroke="#000" stroke-width="1.6"/>
<line x1="88.8" y1="693.6" x2="94" y2="693.6" stroke="#000" stroke-width="1.4"/>
<text x="72.56" y="697.4" font-size="10.8" font-weight="bold" fill="#000" textLength="15.17" lengthAdjust="spacingAndGlyphs" stroke="#000" stroke-width="0.35">0.8</text>
<line x1="88.8" y1="729.2" x2="94" y2="729.2" stroke="#000" stroke-width="1.4"/>
<text x="72.56" y="733" font-size="10.8" font-weight="bold" fill="#000" textLength="15.22" lengthAdjust="spacingAndGlyphs" stroke="#000" stroke-width="0.35">0.6</text>
<line x1="88.8" y1="764.8" x2="94" y2="764.8" stroke="#000" stroke-width="1.4"/>
<text x="72.57" y="768.6" font-size="10.8" font-weight="bold" fill="#000" textLength="14.88" lengthAdjust="spacingAndGlyphs" stroke="#000" stroke-width="0.35">0.4</text>
<line x1="88.8" y1="800.4" x2="94" y2="800.4" stroke="#000" stroke-width="1.4"/>
<text x="72.56" y="804.2" font-size="10.8" font-weight="bold" fill="#000" textLength="15.28" lengthAdjust="spacingAndGlyphs" stroke="#000" stroke-width="0.35">0.2</text>
<line x1="88.8" y1="836" x2="94" y2="836" stroke="#000" stroke-width="1.4"/>
<text x="72.56" y="839.8" font-size="10.8" font-weight="bold" fill="#000" textLength="15.28" lengthAdjust="spacingAndGlyphs" stroke="#000" stroke-width="0.35">0.0</text>
<line x1="122.4" y1="836" x2="122.4" y2="841.5" stroke="#000" stroke-width="1.7"/>
<line x1="164" y1="836" x2="164" y2="841.5" stroke="#000" stroke-width="1.7"/>
<line x1="206" y1="836" x2="206" y2="841.5" stroke="#000" stroke-width="1.7"/>
<text transform="translate(61.2 811.3) rotate(-90)" x="-0.12" y="0" font-size="11" font-weight="bold" fill="#000" textLength="92.95" lengthAdjust="spacingAndGlyphs" stroke="#000" stroke-width="0.35">Tumor weight (g)</text>
<circle cx="118" cy="709" r="2.8" fill="#000"/>
<circle cx="125.6" cy="709" r="2.8" fill="#000"/>
<circle cx="118" cy="718" r="2.8" fill="#000"/>
<circle cx="126" cy="722.4" r="2.8" fill="#000"/>
<circle cx="122" cy="743.4" r="2.8" fill="#000"/>
<line x1="108" y1="720" x2="136" y2="720" stroke="#000" stroke-width="1.4"/>
<line x1="122" y1="706" x2="122" y2="734.4" stroke="#000" stroke-width="1.4"/>
<line x1="115" y1="706" x2="129" y2="706" stroke="#000" stroke-width="1.4"/>
<line x1="115" y1="734.4" x2="129" y2="734.4" stroke="#000" stroke-width="1.4"/>
<rect x="150.2" y="819.6" width="5.6" height="5.6" fill="#ff2a1a"/>
<rect x="161.2" y="815.2" width="5.6" height="5.6" fill="#ff2a1a"/>
<rect x="172.2" y="817.2" width="5.6" height="5.6" fill="#ff2a1a"/>
<rect x="157.6" y="825.2" width="5.6" height="5.6" fill="#ff2a1a"/>
<rect x="164.8" y="823.8" width="5.6" height="5.6" fill="#ff2a1a"/>
<line x1="164" y1="819.5" x2="164" y2="827" stroke="#ff2a1a" stroke-width="1.2"/>
<line x1="158" y1="819.5" x2="170" y2="819.5" stroke="#ff2a1a" stroke-width="1.2"/>
<line x1="150" y1="823" x2="178" y2="823" stroke="#000" stroke-width="1.3"/>
<polygon points="196,820.65 192.9,826.23 199.1,826.23" fill="#1e3cff"/>
<polygon points="216.4,820.65 213.3,826.23 219.5,826.23" fill="#1e3cff"/>
<polygon points="201,824.65 197.9,830.23 204.1,830.23" fill="#1e3cff"/>
<polygon points="211,824.65 207.9,830.23 214.1,830.23" fill="#1e3cff"/>
<polygon points="206,827.05 202.9,832.63 209.1,832.63" fill="#1e3cff"/>
<line x1="199" y1="825" x2="213" y2="825" stroke="#1e3cff" stroke-width="1.2"/>
<line x1="192.4" y1="826.6" x2="220.4" y2="826.6" stroke="#000" stroke-width="1.3"/>
<text transform="translate(124 850) rotate(-45)" x="-73.39" y="0" font-size="11" font-weight="bold" fill="#000" textLength="74.13" lengthAdjust="spacingAndGlyphs" stroke="#000" stroke-width="0.35">siRNA-control</text>
<text transform="translate(166.5 849) rotate(-45)" x="-93.38" y="0" font-size="11" font-weight="bold" fill="#000" textLength="93.65" lengthAdjust="spacingAndGlyphs" stroke="#000" stroke-width="0.35">siRN-LINC02159-1</text>
<text transform="translate(208 850) rotate(-45)" x="-100.38" y="0" font-size="11" font-weight="bold" fill="#000" textLength="100.83" lengthAdjust="spacingAndGlyphs" stroke="#000" stroke-width="0.35">siRNA-LINC02159-2</text></svg>
</body></html>
